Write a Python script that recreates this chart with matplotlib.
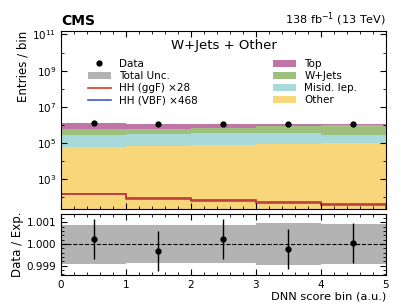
import numpy as np
import matplotlib
matplotlib.use("Agg")
from matplotlib import pyplot as plt
from matplotlib.patches import Patch
from matplotlib.lines import Line2D
from matplotlib.ticker import AutoMinorLocator, FixedLocator, NullFormatter

bins = np.arange(6)

# background yields per DNN score bin (stacked bottom -> top)
other = [6.0e4, 6.8e4, 7.7e4, 8.8e4, 1.0e5]
misid = [2.3e5, 2.5e5, 2.6e5, 2.7e5, 1.6e5]
wjets = [2.6e5, 2.8e5, 3.2e5, 4.8e5, 6.8e5]
top = [6.8e5, 5.7e5, 5.1e5, 3.3e5, 2.3e5]

# scaled signals
hh_ggf = [147, 77, 57, 47, 36]
hh_vbf = [147, 87, 68, 55, 43]

data = [1230283, 1167615, 1167257, 1167755, 1170070]
unc_rel = [0.00090, 0.00088, 0.00089, 0.00098, 0.00093]

bkg = [("Other", other, "#f8d77a"), ("Misid. lep.", misid, "#a8dada"),
       ("W+Jets", wjets, "#9dc07c"), ("Top", top, "#c175a7")]

plt.rcParams['font.family'] = 'DejaVu Sans'
plt.rcParams['font.size'] = 7.5

fig = plt.figure(figsize=(4.07, 3.05), dpi=100)
ax = fig.add_axes([0.150, 0.315, 0.798, 0.584])
rax = fig.add_axes([0.150, 0.098, 0.798, 0.200], sharex=ax)

# stacked backgrounds
base = np.zeros(5)
for name, vals, col in bkg:
    vals = np.array(vals)
    ax.stairs(base + vals, bins, baseline=base, fill=True, color=col, lw=0)
    base = base + vals
total = base

ax.stairs(hh_vbf, bins, color="#3f57d8", lw=1.2)
ax.stairs(hh_ggf, bins, color="#d9352a", lw=1.2)

centers = 0.5 * (bins[1:] + bins[:-1])
data = np.array(data)
ax.errorbar(centers, data, yerr=np.sqrt(data), fmt="o", color="black", ms=3.5, lw=1)

ax.set_yscale("log")
ax.set_ylim(22, 1.6e11)
ax.set_xlim(0, 5)
ax.yaxis.set_major_locator(FixedLocator([1e3, 1e5, 1e7, 1e9, 1e11]))
ax.yaxis.set_minor_locator(FixedLocator([1e2, 1e4, 1e6, 1e8, 1e10]))
ax.yaxis.set_minor_formatter(NullFormatter())
ax.set_ylabel("Entries / bin", loc="top", fontsize=8.5, labelpad=2)
ax.tick_params(labelbottom=False)

ax.text(0.5, 0.955, "W+Jets + Other", transform=ax.transAxes, ha="center", va="top", fontsize=9.5)
ax.text(0.0, 1.015, "CMS", transform=ax.transAxes, ha="left", va="bottom", fontsize=10, fontweight="bold")
ax.text(1.0, 1.015, "138 fb$^{-1}$ (13 TeV)", transform=ax.transAxes, ha="right", va="bottom", fontsize=8.1)

h_left = [Line2D([], [], marker="o", color="black", ms=3.5, lw=0),
          Patch(facecolor="#b3b3b3"),
          Line2D([], [], color="#d9352a", lw=1.2),
          Line2D([], [], color="#3f57d8", lw=1.2)]
l_left = ["Data", "Total Unc.", "HH (ggF) \u00d728", "HH (VBF) \u00d7468"]
leg1 = ax.legend(h_left, l_left, loc="upper left", bbox_to_anchor=(0.07, 0.865), frameon=False,
                 fontsize=7.5, handlelength=2.2, labelspacing=0.2, borderaxespad=0)
ax.add_artist(leg1)
h_right = [Patch(facecolor=c) for _, _, c in bkg[::-1]]
l_right = [n for n, _, _ in bkg[::-1]]
ax.legend(h_right, l_right, loc="upper left", bbox_to_anchor=(0.64, 0.865), frameon=False,
          fontsize=7.5, handlelength=2.2, labelspacing=0.2, borderaxespad=0)

# ratio panel
unc_rel = np.array(unc_rel)
rax.stairs(1 + unc_rel, bins, baseline=1 - unc_rel, fill=True, color="#b3b3b3", lw=0)
rax.axhline(1.0, color="black", ls="--", lw=0.8)
rax.errorbar(centers, data / total, yerr=np.sqrt(data) / total, fmt="o", color="black", ms=3.5, lw=1)
rax.set_ylim(0.99857, 1.00138)
rax.set_yticks([0.999, 1.000, 1.001])
rax.set_ylabel("Data / Exp.", fontsize=8.5, labelpad=2)
rax.set_xlabel("DNN score bin (a.u.)", loc="right", fontsize=8.2, labelpad=1)
rax.set_xticks(range(6))

for a in (ax, rax):
    a.tick_params(which="both", direction="in", top=True, right=True)
    a.tick_params(which="major", length=4)
    a.tick_params(which="minor", length=2)
rax.yaxis.set_minor_locator(AutoMinorLocator(5))
rax.xaxis.set_minor_locator(AutoMinorLocator(5))

fig.savefig("out.png", dpi=100)
